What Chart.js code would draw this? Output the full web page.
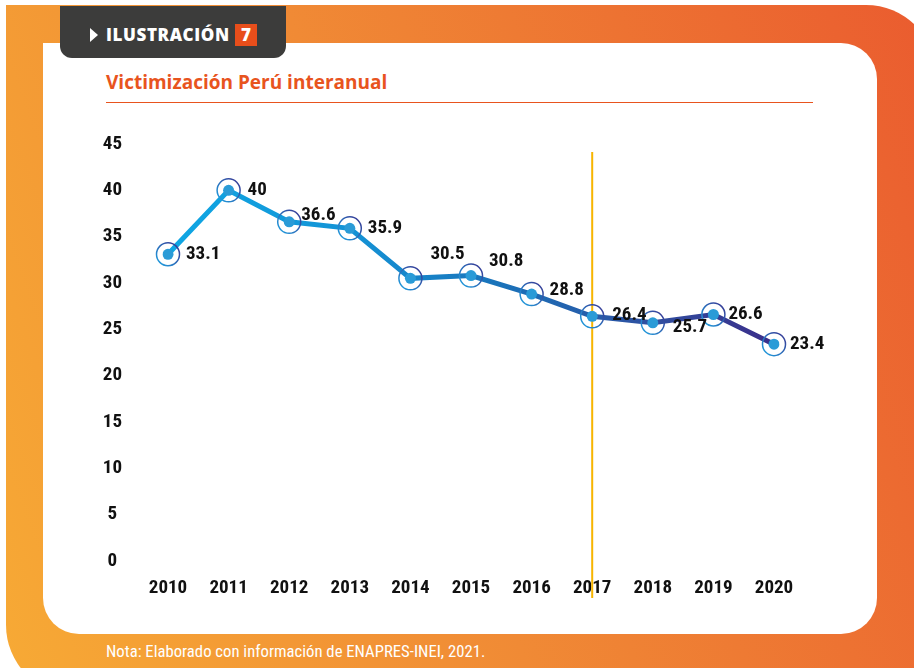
<!DOCTYPE html>
<html>
<head>
<meta charset="utf-8">
<script src="https://cdn.jsdelivr.net/npm/chart.js@4/dist/chart.umd.min.js"></script>
<style>
  html, body { margin: 0; padding: 0; background: #fff; }
  body { width: 914px; height: 668px; position: relative; overflow: hidden; font-family: "Open Sans", sans-serif; }
  .frame {
    position: absolute; left: 6px; top: 5px; width: 930px; height: 690px;
    border-radius: 0 70px 70px 70px;
    background: linear-gradient(70deg, #f7aa35 0%, #f08a35 45%, #ea5b2f 100%);
  }
  .panel {
    position: absolute; left: 43px; top: 43px; width: 834px; height: 591px;
    background: #fff; border-radius: 0 36px 36px 36px;
  }
  .tab {
    position: absolute; left: 60px; top: 6px; width: 226px; height: 52px;
    background: #3c3c3b; border-radius: 0 0 12px 12px;
  }
  .tab .tri {
    position: absolute; left: 30px; top: 22px; width: 0; height: 0;
    border-top: 7px solid transparent; border-bottom: 7px solid transparent; border-left: 8px solid #fff;
  }
  .tab .txt {
    position: absolute; left: 46px; top: 18px; color: #fff; font-weight: 800; font-size: 17px;
    letter-spacing: 0.6px; line-height: 22px;
  }
  .tab .num {
    position: absolute; left: 175px; top: 18px; width: 22px; height: 22px; background: #e84e1b;
    color: #fff; font-weight: 800; font-size: 17px; line-height: 22px; text-align: center;
  }
  .title {
    position: absolute; left: 106px; top: 69px; color: #e8541e; font-weight: 700; font-size: 19px;
  }
  .rule { position: absolute; left: 106px; top: 102px; width: 707px; height: 1px; background: #e8541e; }
  .note {
    position: absolute; left: 106px; top: 642px; color: #fff; font-size: 16.7px;
    font-family: "Roboto Condensed", sans-serif;
  }
  .box { position: absolute; left: 80px; top: 120px; width: 770px; height: 500px; }
</style>
</head>
<body>
<div class="frame"></div>
<div class="panel"></div>
<div class="tab"><div class="tri"></div><div class="txt">ILUSTRACIÓN</div><div class="num">7</div></div>
<div class="title">Victimización Perú interanual</div>
<div class="rule"></div>
<div class="note">Nota: Elaborado con información de ENAPRES-INEI, 2021.</div>
<div class="box"><canvas id="chart1"></canvas></div>
<script>
var years = ["2010", "2011", "2012", "2013", "2014", "2015", "2016", "2017", "2018", "2019", "2020"];
var victimizacion = [33.1, 40, 36.6, 35.9, 30.5, 30.8, 28.8, 26.4, 25.7, 26.6, 23.4];
var markYear = "2017";

var narrow = "'Roboto Condensed', sans-serif";

// where each value label sits relative to its point
var labelOffsets = [[18, 0], [19, 0], [12, -7], [18, 0], [20, -24], [18, -14], [18, -4], [20, -1], [20, 4], [15, 0], [16, 0]];

function lineGradient(context) {
    var area = context.chart.chartArea;
    if (!area) return "#1a8fd4";
    var g = context.chart.ctx.createLinearGradient(area.left, 0, area.right, 0);
    g.addColorStop(0, "#0fa7e4");
    g.addColorStop(0.3, "#1493d6");
    g.addColorStop(0.55, "#1a72b9");
    g.addColorStop(0.8, "#2f4fa0");
    g.addColorStop(1, "#3b2d8a");
    return g;
}

var extras = {
    id: "extras",
    beforeDatasetsDraw: function(chart) {
        var ctx = chart.ctx;
        var x = chart.scales.x.getPixelForValue(years.indexOf(markYear));
        ctx.save();
        ctx.strokeStyle = "#f7b500";
        ctx.lineWidth = 2;
        ctx.beginPath();
        ctx.moveTo(x, chart.chartArea.top + 8);
        ctx.lineTo(x, chart.chartArea.bottom + 37);
        ctx.stroke();
        ctx.restore();
    },
    afterDatasetsDraw: function(chart) {
        var ctx = chart.ctx;
        var meta = chart.getDatasetMeta(0);
        ctx.save();
        meta.data.forEach(function(pt, i) {
            var g = ctx.createLinearGradient(pt.x - 12, pt.y + 12, pt.x + 12, pt.y - 12);
            g.addColorStop(0, "#1ea8e6");
            g.addColorStop(1, "#3a2e8c");
            ctx.strokeStyle = g;
            ctx.lineWidth = 1.5;
            ctx.beginPath();
            ctx.arc(pt.x, pt.y, 11.5, 0, Math.PI * 2);
            ctx.stroke();
        });
        ctx.fillStyle = "#111";
        ctx.font = "bold 19px " + narrow;
        ctx.textAlign = "left";
        ctx.textBaseline = "middle";
        meta.data.forEach(function(pt, i) {
            var o = labelOffsets[i];
            ctx.fillText(String(victimizacion[i]), pt.x + o[0], pt.y + o[1]);
        });
        ctx.restore();
    }
};

new Chart("chart1", {
    type: "line",
    data: {
        labels: years,
        datasets: [
            {
                data: victimizacion,
                borderColor: lineGradient,
                borderWidth: 5,
                fill: false,
                tension: 0,
                pointRadius: 5.5,
                pointBackgroundColor: "#2a9bd7",
                pointBorderWidth: 0
            }
        ]
    },
    options: {
        responsive: true,
        maintainAspectRatio: false,
        animation: false,
        layout: {
            padding: { top: 24, right: 76, bottom: 0, left: 0 }
        },
        plugins: {
            legend: { display: false },
            tooltip: { enabled: false }
        },
        scales: {
            x: {
                offset: false,
                grid: { display: false, drawTicks: false },
                border: { display: false },
                ticks: {
                    color: "#111",
                    padding: 16,
                    maxRotation: 0,
                    font: { family: narrow, size: 19, weight: "bold" }
                },
                afterFit: function(s) { s.height = 59; }
            },
            y: {
                min: 0,
                max: 45,
                grid: { display: false, drawTicks: false },
                border: { display: false },
                ticks: {
                    stepSize: 5,
                    color: "#111",
                    crossAlign: "center",
                    padding: 46,
                    font: { family: narrow, size: 19, weight: "bold" }
                },
                afterFit: function(s) {
                    s.width = 88;
                    s.paddingTop = 12;
                    s.paddingBottom = 12;
                }
            }
        }
    },
    plugins: [extras]
});
</script>
</body>
</html>
